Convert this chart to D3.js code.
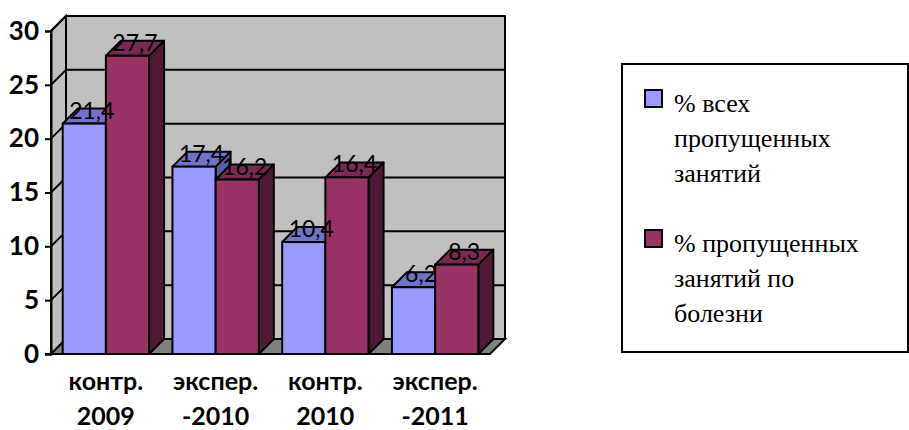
<!DOCTYPE html>
<html>
<head>
<meta charset="utf-8">
<script src="https://cdn.jsdelivr.net/npm/d3@7"></script>
<style>
  html, body { margin: 0; padding: 0; background: #fff; }
  svg { display: block; }
</style>
</head>
<body>
<svg id="chart" width="909" height="430"></svg>
<script>
// Attendance data: share of missed lessons per group and year
const categories = [["контр.", "2009"], ["экспер.", "-2010"], ["контр.", "2010"], ["экспер.", "-2011"]];
const categoryKeys = ["c2009", "e2010", "c2010", "e2011"];
const seriesNames = ["% всех пропущенных занятий", "% пропущенных занятий по болезни"];
const seriesKeys = ["all", "ill"];
const allMissed = [21.4, 17.4, 10.4, 6.2];
const illMissed = [27.7, 16.2, 16.4, 8.3];
const yTicks = [0, 5, 10, 15, 20, 25, 30];
const legendLines = [["% всех", "пропущенных", "занятий"], ["% пропущенных", "занятий по", "болезни"]];

const seriesValues = [allMissed, illMissed];
const palette = {
  all: { front: "#9999ff", top: "#7272c8", side: "#5a5aa6" },
  ill: { front: "#993366", top: "#7a2952", side: "#4f1a35" }
};
const sansFont = "Lato";
const serifFont = "Liberation Serif";

const svg = d3.select("#chart");
const depthX = 15, depthY = 15;          // 3D depth offset
const plotLeft = 51, plotRight = 490;
const plotTop = 31, plotBottom = 354;

const y = d3.scaleLinear().domain([0, 30]).range([plotBottom, plotTop]);
const x0 = d3.scaleBand().domain(categoryKeys).range([plotLeft, plotRight])
  .paddingInner(0.213).paddingOuter(0.1065);
const x1 = d3.scaleBand().domain(seriesKeys).range([0, x0.bandwidth()]);

const stroke = "#000", sw = 2;
const walls = svg.append("g");

// back wall
walls.append("rect")
  .attr("x", plotLeft + depthX).attr("y", plotTop - depthY)
  .attr("width", plotRight - plotLeft).attr("height", plotBottom - plotTop)
  .attr("fill", "#c0c0c0").attr("stroke", stroke).attr("stroke-width", sw);

// left side wall
walls.append("polygon")
  .attr("points", [
    [plotLeft, plotBottom], [plotLeft, plotTop],
    [plotLeft + depthX, plotTop - depthY], [plotLeft + depthX, plotBottom - depthY]
  ].map(p => p.join(",")).join(" "))
  .attr("fill", "#c0c0c0").attr("stroke", stroke).attr("stroke-width", sw);

// floor
walls.append("polygon")
  .attr("points", [
    [plotLeft, plotBottom], [plotRight, plotBottom],
    [plotRight + depthX, plotBottom - depthY], [plotLeft + depthX, plotBottom - depthY]
  ].map(p => p.join(",")).join(" "))
  .attr("fill", "#808080").attr("stroke", stroke).attr("stroke-width", sw);

// gridlines on back wall and left wall
const grid = svg.append("g");
yTicks.filter(v => v > 0).forEach(v => {
  grid.append("line")
    .attr("x1", plotLeft + depthX).attr("x2", plotRight + depthX)
    .attr("y1", y(v) - depthY).attr("y2", y(v) - depthY)
    .attr("stroke", stroke).attr("stroke-width", sw);
  grid.append("line")
    .attr("x1", plotLeft).attr("x2", plotLeft + depthX)
    .attr("y1", y(v)).attr("y2", y(v) - depthY)
    .attr("stroke", stroke).attr("stroke-width", sw);
});

// bars as 3D prisms (drawn left to right)
const bars = [];
categoryKeys.forEach((c, i) => {
  seriesKeys.forEach((s, j) => {
    bars.push({ cat: c, key: s, value: seriesValues[j][i] });
  });
});

const barG = svg.append("g");
bars.forEach(b => {
  const xl = x0(b.cat) + x1(b.key);
  const w = x1.bandwidth();
  const yt = y(b.value);
  const yb = y(0);
  const col = palette[b.key];
  const g = barG.append("g");
  g.append("polygon")
    .attr("points", [[xl + w, yt], [xl + w + depthX, yt - depthY], [xl + w + depthX, yb - depthY], [xl + w, yb]]
      .map(p => p.join(",")).join(" "))
    .attr("fill", col.side).attr("stroke", stroke).attr("stroke-width", sw).attr("stroke-linejoin", "round");
  g.append("polygon")
    .attr("points", [[xl, yt], [xl + w, yt], [xl + w + depthX, yt - depthY], [xl + depthX, yt - depthY]]
      .map(p => p.join(",")).join(" "))
    .attr("fill", col.top).attr("stroke", stroke).attr("stroke-width", sw).attr("stroke-linejoin", "round");
  g.append("rect")
    .attr("x", xl).attr("y", yt).attr("width", w).attr("height", yb - yt)
    .attr("fill", col.front).attr("stroke", stroke).attr("stroke-width", sw);
});

// value labels
svg.append("g").selectAll("text").data(bars).join("text")
  .attr("x", d => x0(d.cat) + x1(d.key) + x1.bandwidth() / 2 + depthX / 2)
  .attr("y", d => y(d.value) - 5)
  .attr("text-anchor", "middle")
  .attr("font-family", sansFont)
  .attr("font-size", 23)
  .attr("fill", "#000")
  .text(d => d3.format(".1f")(d.value).replace(".", ","));

// y axis
const yAxis = svg.append("g")
  .attr("transform", `translate(${plotLeft},0)`)
  .call(d3.axisLeft(y).tickValues(yTicks).tickSize(6).tickPadding(6).tickFormat(d3.format("d")));
yAxis.attr("font-family", sansFont).attr("font-size", 26);
yAxis.select(".domain").attr("stroke", stroke).attr("stroke-width", sw);
yAxis.selectAll(".tick line").attr("stroke", stroke).attr("stroke-width", sw);
yAxis.selectAll(".tick text").attr("font-weight", "bold").attr("fill", "#000");

// floor front edge
svg.append("line")
  .attr("x1", plotLeft - 6).attr("x2", plotRight)
  .attr("y1", plotBottom).attr("y2", plotBottom)
  .attr("stroke", stroke).attr("stroke-width", sw);

// category labels (two lines)
const catG = svg.append("g");
categoryKeys.forEach((c, i) => {
  const cx = x0(c) + x0.bandwidth() / 2;
  categories[i].forEach((line, k) => {
    catG.append("text")
      .attr("x", cx).attr("y", 390 + k * 35)
      .attr("text-anchor", "middle")
      .attr("font-family", sansFont)
      .attr("font-weight", "bold").attr("font-size", 25)
      .attr("fill", "#000")
      .text(line);
  });
});

// legend
const legend = svg.append("g");
legend.append("rect")
  .attr("x", 622).attr("y", 64).attr("width", 286).attr("height", 288)
  .attr("fill", "#fff").attr("stroke", stroke).attr("stroke-width", sw);
seriesKeys.forEach((s, i) => {
  const top = 90 + i * 140;
  legend.append("rect")
    .attr("x", 645).attr("y", top).attr("width", 17).attr("height", 17)
    .attr("fill", palette[s].front).attr("stroke", stroke).attr("stroke-width", sw);
  legendLines[i].forEach((line, k) => {
    legend.append("text")
      .attr("x", 674).attr("y", top + 22 + k * 35)
      .attr("font-family", serifFont)
      .attr("font-size", 26).attr("fill", "#000")
      .text(line);
  });
});
</script>
</body>
</html>
